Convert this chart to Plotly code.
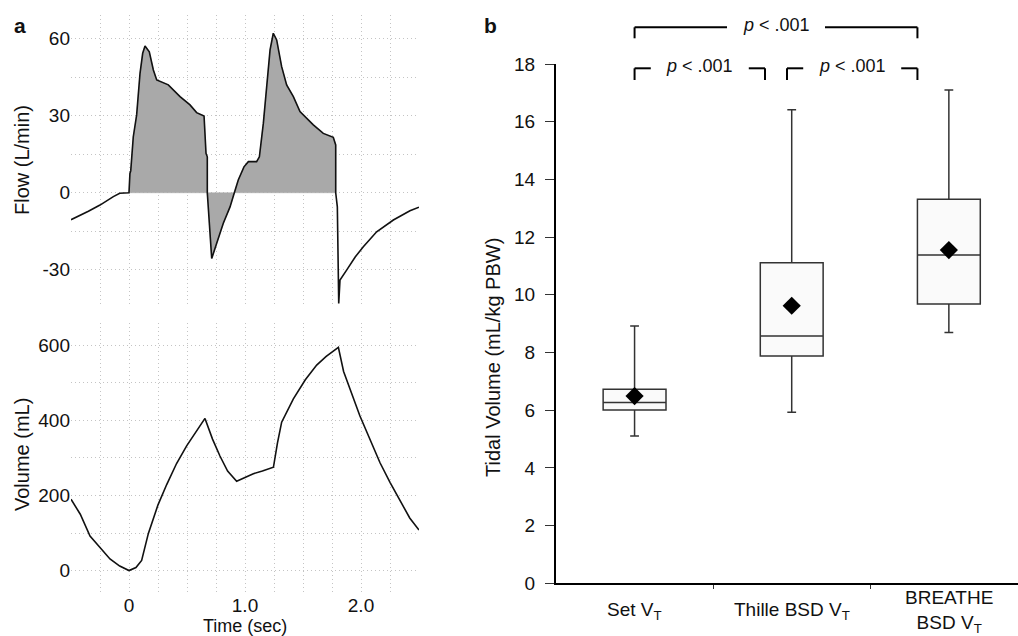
import plotly.graph_objects as go

# ---------------- data: panel a ----------------
flow_t = [-0.5, -0.35, -0.25, -0.135, -0.08, 0.0, 0.008, 0.015, 0.037, 0.066, 0.095, 0.118, 0.138,
          0.175, 0.21, 0.239, 0.339, 0.44, 0.526, 0.583, 0.647, 0.664, 0.675, 0.675, 0.713, 0.756,
          0.813, 0.871, 0.908, 0.942, 0.991, 1.029, 1.10, 1.124, 1.158, 1.187, 1.216, 1.244, 1.273,
          1.316, 1.359, 1.417, 1.474, 1.589, 1.675, 1.761, 1.782, 1.782, 1.796, 1.808, 1.819, 1.876,
          1.95, 2.02, 2.135, 2.279, 2.422, 2.5]
flow_v = [-10.5, -7.2, -4.8, -1.5, -0.2, 0.0, 7.5, 8.5, 21.8, 30.3, 46.5, 54.3, 57.1,
          54.9, 47.8, 43.9, 42.0, 37.4, 34.2, 31.2, 29.9, 15.3, 14.0, 0.0, -25.6, -19.7,
          -11.9, -5.5, 0.0, 5.0, 10.1, 12.1, 12.1, 14.0, 27.0, 41.3, 55.6, 62.1, 59.5,
          49.1, 42.0, 37.4, 31.6, 26.4, 23.1, 21.6, 18.6, 0.0, -5.5, -43.1, -34.0, -30.1,
          -25.0, -21.0, -15.2, -10.6, -7.0, -5.6]

vol_t = [-0.5, -0.42, -0.336, -0.25, -0.164, -0.08, 0.0, 0.06, 0.109, 0.167, 0.25, 0.325, 0.41,
         0.497, 0.58, 0.655, 0.72, 0.784, 0.85, 0.928, 1.0, 1.072, 1.15, 1.245, 1.28, 1.316,
         1.417, 1.52, 1.618, 1.70, 1.805, 1.85, 1.99, 2.08, 2.164, 2.25, 2.336, 2.42, 2.5]
vol_v = [190, 150, 92, 60, 31, 12, 0, 8, 27, 99, 175, 229, 285,
         332, 370, 405, 350, 305, 265, 238, 248, 258, 265, 275, 340, 395,
         457, 508, 547, 570, 594, 530, 412, 345, 287, 235, 188, 140, 108]

insp_start, insp_end = 0.0, 1.782

# ---------------- data: panel b ----------------
categories = ["Set V<sub>T</sub>", "Thille BSD V<sub>T</sub>", "BREATHE<br>BSD V<sub>T</sub>"]
q1 = [6.01, 7.88, 9.68]
median = [6.27, 8.57, 11.38]
q3 = [6.73, 11.11, 13.31]
lowerfence = [5.11, 5.93, 8.69]
upperfence = [8.92, 16.41, 17.10]
means = [6.49, 9.62, 11.55]
p_labels = ["<i>p</i> &lt; .001", "<i>p</i> &lt; .001", "<i>p</i> &lt; .001"]
# bracket extents in category units (start, end) and level (0 = lower row, 1 = top row)
brackets = [(0.0, 0.83, 0), (0.97, 1.80, 0), (0.0, 1.80, 1)]

W, H = 1018, 636
FONT = "Liberation Sans, Arial, Helvetica, sans-serif"

def px_x(p):
    return p / W

def px_y(p):
    return 1 - p / H

fig = go.Figure()

# flow fill (inspiratory segment, closed to zero) and line
seg = [(t, v) for t, v in zip(flow_t, flow_v) if insp_start <= t <= insp_end]
fill_t = [t for t, _ in seg] + [seg[-1][0], seg[0][0]]
fill_v = [v for _, v in seg] + [0, 0]
fig.add_trace(go.Scatter(x=fill_t, y=fill_v, mode="lines", fill="toself",
                         fillcolor="#a9a9a9", line=dict(width=0.5, color="#a9a9a9", simplify=False),
                         xaxis="x", yaxis="y", showlegend=False, hoverinfo="skip"))
fig.add_trace(go.Scatter(x=flow_t, y=flow_v, mode="lines",
                         line=dict(color="#111111", width=1.6, simplify=False),
                         xaxis="x", yaxis="y", showlegend=False))
fig.add_trace(go.Scatter(x=vol_t, y=vol_v, mode="lines", line=dict(color="#111111", width=1.6),
                         xaxis="x2", yaxis="y2", showlegend=False))

# box plots
xs = list(range(len(categories)))
for i in xs:
    fig.add_trace(go.Box(x=[i], q1=[q1[i]], median=[median[i]], q3=[q3[i]],
                         lowerfence=[lowerfence[i]], upperfence=[upperfence[i]],
                         width=0.40, whiskerwidth=0.14, fillcolor="#fafafa",
                         line=dict(color="#333333", width=1.5),
                         xaxis="x3", yaxis="y3", showlegend=False, boxpoints=False))
fig.add_trace(go.Scatter(x=xs, y=means, mode="markers",
                         marker=dict(symbol="diamond", size=14, color="black"),
                         xaxis="x3", yaxis="y3", showlegend=False))

grid = dict(showgrid=True, gridcolor="#c4c4c4", gridwidth=1, griddash="1px,3px",
            zeroline=False, showline=False, ticks="", automargin=False)

xa_dom = [px_x(71), px_x(419)]
t_ticks = [-0.25, 0, 0.25, 0.5, 0.75, 1.0, 1.25, 1.5, 1.75, 2.0, 2.25]
t_text = ["0" if t == 0 else ("%.1f" % t if t in (1.0, 2.0) else "") for t in t_ticks]

b_dom = [px_x(556), 1.0]
b_range = [-0.5, 2.44]

def cat_to_paper(c):
    return b_dom[0] + (c - b_range[0]) / (b_range[1] - b_range[0]) * (b_dom[1] - b_dom[0])

fig.update_layout(
    width=W, height=H, margin=dict(l=0, r=0, t=0, b=0, pad=0, autoexpand=False),
    paper_bgcolor="white", plot_bgcolor="white",
    font=dict(family=FONT, size=19, color="#111111"),
    xaxis=dict(domain=xa_dom, range=[-0.5, 2.5], anchor="y", tickvals=t_ticks,
               showticklabels=False, **grid),
    yaxis=dict(domain=[px_y(305), px_y(15)], range=[-43.7, 69.2], anchor="x",
               tickvals=[-30, -15, 0, 15, 30, 45, 60],
               ticktext=["-30", "", "0", "", "30", "", "60"], ticklabelstandoff=0, **grid),
    xaxis2=dict(domain=xa_dom, range=[-0.5, 2.5], anchor="y2", tickvals=t_ticks,
                ticktext=t_text, ticklabelstandoff=0, **grid),
    yaxis2=dict(domain=[px_y(592), px_y(323)], range=[-57, 659], anchor="x2",
                tickvals=[0, 100, 200, 300, 400, 500, 600],
                ticktext=["0", "", "200", "", "400", "", "600"], ticklabelstandoff=0, **grid),
    xaxis3=dict(domain=b_dom, range=b_range, anchor="y3", showgrid=False, zeroline=False,
                showline=True, linecolor="black", linewidth=2, tickvals=xs,
                showticklabels=False, ticks="", automargin=False,
                minor=dict(tickvals=[0.5, 1.5], ticks="outside", ticklen=4, tickwidth=1,
                           tickcolor="#333333", showgrid=False)),
    yaxis3=dict(domain=[px_y(583.3), px_y(64)], range=[0, 18], anchor="x3", showgrid=False,
                zeroline=False, showline=True, linecolor="black", linewidth=2,
                tickvals=list(range(0, 19, 2)), ticks="outside", ticklen=9, tickwidth=1,
                tickcolor="#333333", ticklabelstandoff=6, automargin=False),
)

ann = []
def add_text(text, x, y, xref="paper", yref="paper", **kw):
    ann.append(dict(text=text, x=x, y=y, xref=xref, yref=yref, showarrow=False,
                    xanchor="center", yanchor="middle", **kw))

# panel letters
add_text("<b>a</b>", px_x(20), px_y(26), font=dict(size=21))
add_text("<b>b</b>", px_x(490), px_y(25), font=dict(size=21))
# axis titles
add_text("Flow (L/min)", px_x(22), px_y(160), textangle=-90, font=dict(size=20))
add_text("Volume (mL)", px_x(22), px_y(455), textangle=-90, font=dict(size=20))
add_text("Time (sec)", px_x(245), px_y(626), font=dict(size=18))
add_text("Tidal Volume (mL/kg PBW)", px_x(493), px_y(358), textangle=-90, font=dict(size=20))
# category labels
for i, c in enumerate(categories):
    add_text(c, i, px_y(611), xref="x3", align="center")

shapes = []
row_y = {0: (68.3, 80), 1: (27.3, 38.3)}
for (c0, c1, lvl), lab in zip(brackets, p_labels):
    x0, x1 = cat_to_paper(c0), cat_to_paper(c1)
    ytop, ybot = px_y(row_y[lvl][0]), px_y(row_y[lvl][1])
    xm = (x0 + x1) / 2
    half_gap = px_x(49)
    lw = dict(color="black", width=2)
    shapes.append(dict(type="line", xref="paper", yref="paper", x0=x0, x1=xm - half_gap,
                       y0=ytop, y1=ytop, line=lw))
    shapes.append(dict(type="line", xref="paper", yref="paper", x0=xm + half_gap, x1=x1,
                       y0=ytop, y1=ytop, line=lw))
    shapes.append(dict(type="line", xref="paper", yref="paper", x0=x0, x1=x0,
                       y0=ytop, y1=ybot, line=lw))
    shapes.append(dict(type="line", xref="paper", yref="paper", x0=x1, x1=x1,
                       y0=ytop, y1=ybot, line=lw))
    add_text(lab, xm, px_y(row_y[lvl][0] - 2), font=dict(size=18))

fig.update_layout(annotations=ann, shapes=shapes)
fig.write_html("out.html", config={"displayModeBar": False},
               post_script="document.body.style.margin='0';document.body.style.overflow='hidden';")
